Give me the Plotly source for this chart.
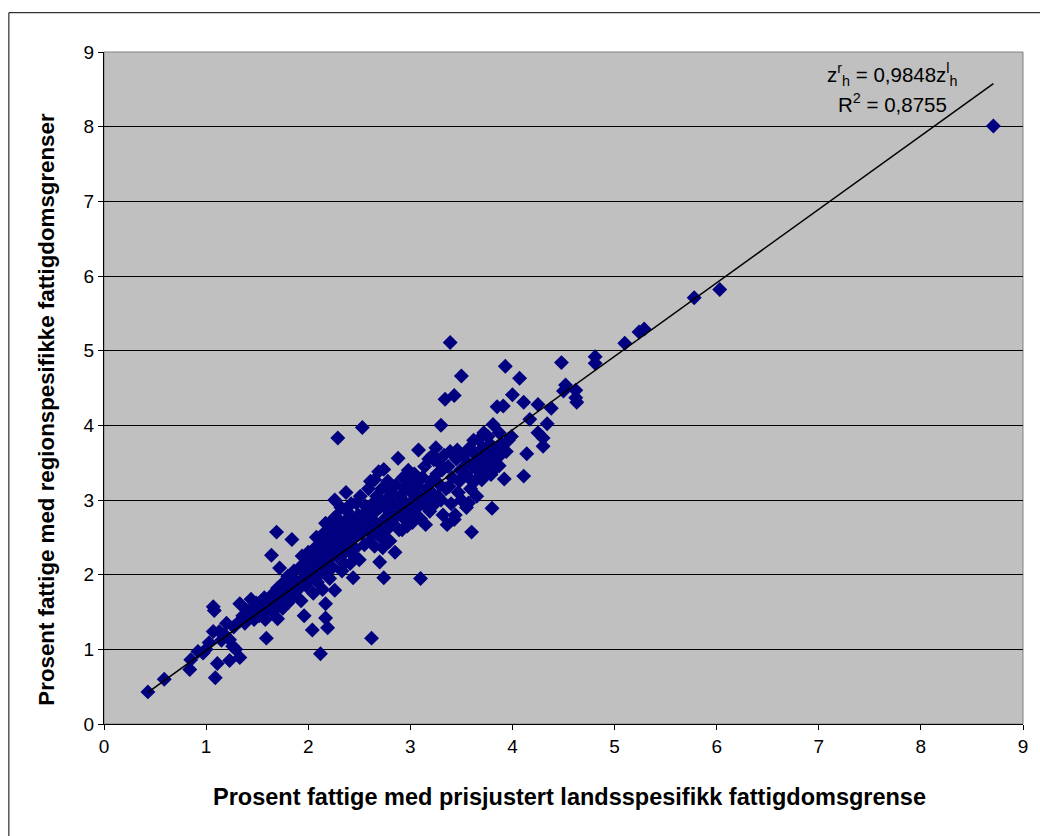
import plotly.graph_objects as go

# Observations: (prisjustert landsspesifikk, regionspesifikk) poverty share in percent
obs = [
    (0.43, 0.43), (0.59, 0.60), (0.84, 0.73), (0.85, 0.86), (0.92, 0.97), (0.97, 0.95),
    (1.00, 1.00), (1.03, 1.09), (1.07, 1.24), (1.07, 1.57), (1.08, 1.52), (1.09, 0.62),
    (1.11, 0.81), (1.13, 1.24), (1.15, 1.12), (1.18, 1.20), (1.20, 1.35), (1.23, 1.13),
    (1.23, 0.85), (1.26, 1.04), (1.29, 1.00), (1.27, 1.30),
    (1.33, 0.89), (1.33, 1.38), (1.33, 1.61), (1.36, 1.45), (1.38, 1.35), (1.40, 1.52),
    (1.42, 1.44), (1.44, 1.67), (1.45, 1.55), (1.47, 1.40), (1.49, 1.62), (1.50, 1.50),
    (1.52, 1.45), (1.54, 1.53), (1.55, 1.62), (1.57, 1.69), (1.58, 1.40), (1.59, 1.15),
    (1.60, 1.55),
    (1.62, 1.65), (1.64, 2.26), (1.65, 1.50), (1.66, 1.75), (1.68, 1.60), (1.69, 2.57),
    (1.70, 1.41), (1.70, 1.82), (1.72, 2.09), (1.73, 1.68), (1.75, 1.55), (1.76, 1.90),
    (1.78, 1.75), (1.80, 1.62), (1.80, 1.98), (1.82, 1.85), (1.84, 2.47), (1.85, 1.70),
    (1.86, 2.05), (1.88, 1.92), (1.90, 1.80),
    (1.92, 2.10), (1.93, 1.65), (1.94, 2.25), (1.95, 1.95), (1.96, 1.45), (1.97, 2.15),
    (1.98, 1.85), (2.00, 2.05), (2.00, 2.30), (2.02, 1.95), (2.03, 2.20), (2.04, 1.26),
    (2.05, 1.75), (2.06, 2.35), (2.07, 2.10), (2.08, 2.50), (2.09, 1.90), (2.10, 2.25),
    (2.11, 2.00), (2.12, 0.94), (2.12, 2.40), (2.13, 2.15), (2.14, 1.80), (2.15, 2.55),
    (2.16, 2.30), (2.17, 1.61), (2.17, 1.42), (2.17, 2.69), (2.18, 2.05), (2.19, 1.29),
    (2.19, 2.45),
    (2.20, 2.20), (2.21, 1.95), (2.22, 2.60), (2.23, 2.35), (2.24, 2.10), (2.25, 2.75),
    (2.26, 1.79), (2.26, 3.00), (2.27, 2.50), (2.27, 2.78), (2.28, 2.25), (2.29, 3.83),
    (2.30, 2.65), (2.31, 2.40), (2.32, 2.90), (2.33, 2.05), (2.34, 2.55), (2.35, 2.70),
    (2.36, 2.30), (2.37, 3.10), (2.38, 2.85), (2.39, 2.45), (2.40, 2.60), (2.41, 2.15),
    (2.42, 2.95), (2.43, 2.75), (2.44, 1.96), (2.45, 2.50), (2.46, 2.35), (2.47, 2.96),
    (2.48, 2.65), (2.49, 2.80), (2.25, 2.45), (2.35, 2.15), (2.45, 2.25), (2.30, 2.50),
    (2.50, 2.20), (2.51, 3.05), (2.52, 2.55), (2.53, 3.97), (2.54, 2.70), (2.55, 2.40),
    (2.56, 2.92), (2.57, 2.85), (2.58, 2.60), (2.59, 3.15), (2.60, 2.45), (2.61, 3.25),
    (2.62, 1.15), (2.62, 2.75), (2.63, 2.95), (2.64, 2.55), (2.65, 2.38), (2.65, 3.27),
    (2.66, 2.85), (2.67, 3.05), (2.68, 2.65), (2.69, 3.38), (2.70, 2.17), (2.70, 2.90),
    (2.71, 2.50), (2.72, 3.15), (2.73, 2.36), (2.74, 1.96), (2.74, 3.41), (2.75, 2.75),
    (2.76, 3.00), (2.77, 2.60), (2.78, 3.25), (2.79, 2.85), (2.55, 2.65), (2.65, 2.70),
    (2.80, 2.45), (2.81, 3.10), (2.82, 2.70), (2.83, 2.95), (2.85, 2.30), (2.86, 3.20),
    (2.87, 2.80), (2.88, 3.56), (2.89, 2.60), (2.90, 3.05), (2.91, 2.90), (2.92, 2.60),
    (2.93, 3.30), (2.94, 2.75), (2.95, 3.15), (2.96, 2.95), (2.97, 2.65), (2.98, 3.40),
    (2.99, 3.23), (3.00, 2.85), (3.01, 3.10), (3.02, 2.70), (3.03, 3.00), (3.04, 3.35),
    (3.05, 2.80), (3.06, 3.20), (3.07, 2.90), (3.08, 3.67), (3.09, 3.05), (3.10, 1.95),
    (3.10, 2.75),
    (3.12, 3.30), (3.13, 2.95), (3.14, 3.45), (3.15, 2.67), (3.16, 3.15), (3.17, 3.00),
    (3.18, 3.55), (3.19, 2.85), (3.20, 3.25), (3.21, 3.10), (3.22, 3.60), (3.23, 3.54),
    (3.24, 2.95), (3.25, 3.70), (3.26, 3.35), (3.27, 3.05), (3.28, 3.50), (3.29, 3.20),
    (3.30, 3.00), (3.30, 4.00), (3.31, 3.40), (3.32, 2.80), (3.33, 3.60), (3.34, 4.35),
    (3.35, 3.15), (3.36, 2.67), (3.37, 3.45), (3.38, 3.18), (3.39, 5.11), (3.39, 3.65),
    (3.40, 2.95), (3.41, 3.30), (3.43, 4.40), (3.43, 2.74), (3.44, 2.80), (3.45, 3.55),
    (3.46, 3.67), (3.47, 3.10), (3.48, 3.25), (3.49, 3.40), (3.50, 4.66), (3.50, 3.00),
    (3.52, 3.60), (3.54, 3.35), (3.55, 2.90), (3.56, 3.50), (3.57, 3.30), (3.57, 2.96),
    (3.58, 3.70), (3.59, 3.15), (3.60, 2.57), (3.61, 3.45), (3.62, 3.80), (3.63, 3.25),
    (3.64, 3.60), (3.65, 3.05), (3.66, 3.40), (3.67, 3.81), (3.68, 3.55), (3.69, 3.35),
    (3.70, 3.27),
    (3.71, 3.70), (3.72, 3.90), (3.73, 3.45), (3.74, 3.60), (3.75, 3.63), (3.76, 3.85),
    (3.77, 3.50), (3.78, 3.75), (3.79, 3.34), (3.81, 4.01), (3.80, 2.89), (3.81, 3.65),
    (3.83, 3.55), (3.85, 4.25), (3.85, 3.45), (3.86, 3.70), (3.87, 3.90), (3.87, 3.46),
    (3.88, 3.60), (3.90, 3.75), (3.91, 4.26), (3.92, 3.28), (3.93, 4.79), (3.94, 3.65),
    (3.96, 3.80), (3.99, 3.85),
    (4.00, 4.41), (4.07, 4.63), (4.11, 4.31), (4.11, 3.32), (4.14, 3.62), (4.17, 4.08),
    (4.25, 4.28), (4.25, 3.90), (4.30, 3.83), (4.30, 3.72), (4.34, 4.02), (4.38, 4.23),
    (4.48, 4.84), (4.50, 4.46), (4.52, 4.54), (4.62, 4.47), (4.62, 4.37), (4.63, 4.31),
    (4.81, 4.92), (4.81, 4.83), (5.10, 5.10), (5.24, 5.25), (5.29, 5.29), (5.78, 5.71),
    (6.03, 5.82), (8.71, 8.01),
]
x_land = [p[0] for p in obs]
y_region = [p[1] for p in obs]

# Trend line through the origin
slope = 0.9848
r_squared = 0.8755
trend_x = [min(x_land), max(x_land)]
trend_y = [slope * v for v in trend_x]

ticks = list(range(0, 10))
font_family = "Liberation Sans, Arial, sans-serif"

fig = go.Figure()
fig.add_trace(go.Scatter(
    x=x_land, y=y_region, mode="markers",
    marker=dict(symbol="diamond", size=11.5, color="#000080",
                line=dict(width=0)),
    showlegend=False, hoverinfo="skip",
))
fig.add_trace(go.Scatter(
    x=trend_x, y=trend_y, mode="lines",
    line=dict(color="black", width=1.5),
    showlegend=False, hoverinfo="skip",
))

axis_common = dict(
    range=[0, 9], tickvals=ticks, ticktext=[str(t) for t in ticks],
    ticks="outside", ticklen=5, tickcolor="black", tickwidth=1,
    showline=True, linecolor="black", linewidth=1,
    tickfont=dict(family=font_family, size=19, color="black"),
    zeroline=False,
)

fig.update_layout(
    width=1040, height=836,
    margin=dict(l=104, r=15, t=52, b=112),
    paper_bgcolor="white", plot_bgcolor="#C0C0C0",
    xaxis=dict(**axis_common, showgrid=False),
    yaxis=dict(**axis_common, showgrid=True, gridcolor="black", gridwidth=1),
    font=dict(family=font_family, color="black"),
    shapes=[
        # plot area frame
        dict(type="rect", xref="paper", yref="paper", x0=0, x1=1, y0=0, y1=1,
             line=dict(color="#808080", width=1), layer="below"),
        # chart area border
        dict(type="rect", xref="paper", yref="paper",
             x0=-0.1035, x1=1.05, y0=-0.2, y1=1.0585,
             line=dict(color="black", width=1)),
    ],
    annotations=[
        dict(text="<b>Prosent fattige med prisjustert landsspesifikk fattigdomsgrense</b>",
             xref="paper", yref="paper", x=0.507, y=-0.108,
             xanchor="center", yanchor="middle", showarrow=False,
             font=dict(size=23.5, family=font_family)),
        dict(text="<b>Prosent fattige med regionspesifikke fattigdomsgrenser</b>",
             xref="paper", yref="paper", x=-0.0622, y=0.469, textangle=-90,
             xanchor="center", yanchor="middle", showarrow=False,
             font=dict(size=22.3, family=font_family)),
        dict(text="z<sup>r</sup><sub>h</sub> = " + f"{slope:.4f}".replace(".", ",")
                  + "z<sup>l</sup><sub>h</sub>",
             xref="paper", yref="paper", x=0.858, y=0.966,
             xanchor="center", yanchor="middle", showarrow=False,
             font=dict(size=20.5, family=font_family)),
        dict(text="R<sup>2</sup> = " + f"{r_squared:.4f}".replace(".", ","),
             xref="paper", yref="paper", x=0.858, y=0.9246,
             xanchor="center", yanchor="middle", showarrow=False,
             font=dict(size=20.5, family=font_family)),
    ],
)

fig.write_html("out.html")
